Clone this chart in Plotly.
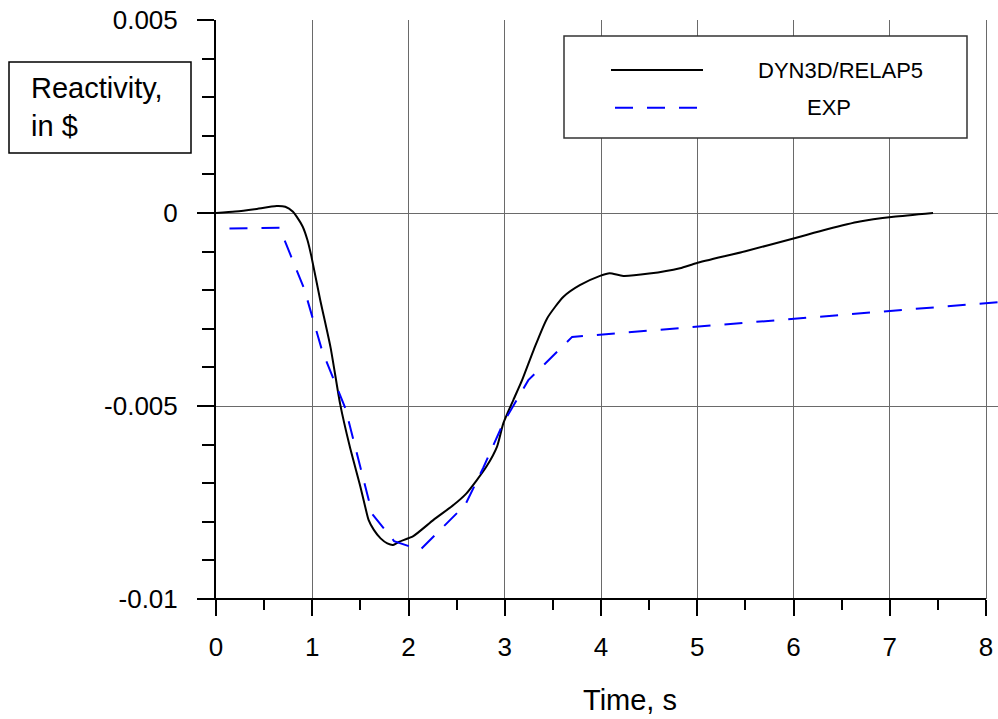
import plotly.graph_objects as go

# ---------------- data ----------------
calc_t = [0.0, 0.2, 0.4, 0.63, 0.72, 0.8, 0.84, 0.9, 0.95, 0.99, 1.08, 1.19, 1.29,
          1.39, 1.50, 1.55, 1.585, 1.64, 1.71, 1.78, 1.84, 1.9, 2.05, 2.26, 2.47, 2.6,
          2.71, 2.81, 2.92, 2.985, 3.09, 3.18, 3.30, 3.44, 3.61, 3.78, 3.99, 4.09, 4.23,
          4.5, 4.82, 4.99, 5.5, 6.0, 6.35, 6.69, 7.04, 7.45]
calc_v = [0.0, 0.00004, 0.0001, 0.00018, 0.00016, 0.00003, -0.0001, -0.00035, -0.0007,
          -0.00111, -0.00222, -0.00348, -0.00495, -0.00605, -0.00709, -0.00761, -0.00795,
          -0.00821, -0.00843, -0.00856, -0.0086, -0.00852, -0.00837, -0.00795, -0.00756,
          -0.00727, -0.00692, -0.00657, -0.00605, -0.00545, -0.00484, -0.00433, -0.00355,
          -0.00273, -0.00217, -0.00187, -0.00163, -0.00156, -0.00163, -0.00157, -0.00143,
          -0.0013, -0.00099, -0.00066, -0.00042, -0.00022, -0.0001, 0.0]

exp_t = [0.14, 0.66, 0.917, 1.104, 1.343, 1.624, 1.85, 2.12, 2.59, 2.777, 2.985, 3.245,
         3.70, 8.12]
exp_v = [-0.0004, -0.00038, -0.00197, -0.00358, -0.00505, -0.0078, -0.0085, -0.00873,
         -0.00756, -0.0066, -0.00544, -0.00433, -0.00321, -0.00231]

x_ticks = [0, 1, 2, 3, 4, 5, 6, 7, 8]
y_ticks = [-0.01, -0.005, 0, 0.005]
y_tick_text = ["-0.01", "-0.005", "0", "0.005"]

series_names = ["DYN3D/RELAP5", "EXP"]
x_title = "Time, s"
y_title = "Reactivity,<br>in $"

# ---------------- layout helpers ----------------
W, H = 998, 719
ML, MR, MT, MB = 216, 0, 20, 120
PW, PH = W - ML - MR, H - MT - MB
XMAX = 8.0 * PW / 770.0  # 0..8 spans 770 px


def px(xp):
    return (xp - ML) / PW


def py(yp):
    return (H - MB - yp) / PH


FONT = "Liberation Sans, Arial, sans-serif"

fig = go.Figure()
fig.add_trace(go.Scatter(x=calc_t, y=calc_v, mode="lines", name=series_names[0],
                         line=dict(color="black", width=2, shape="spline", smoothing=0.6),
                         showlegend=False))
fig.add_trace(go.Scatter(x=exp_t, y=exp_v, mode="lines", name=series_names[1],
                         line=dict(color="#0000ff", width=2, dash="18px,14px"),
                         showlegend=False))

fig.update_layout(
    width=W, height=H,
    margin=dict(l=ML, r=MR, t=MT, b=MB, pad=0),
    paper_bgcolor="white", plot_bgcolor="white",
    font=dict(family=FONT, color="black"),
    showlegend=False,
)

fig.update_xaxes(
    range=[0, XMAX], tickmode="array", tickvals=x_ticks,
    ticks="outside", ticklen=16, tickwidth=2, tickcolor="black",
    tickfont=dict(size=26, family=FONT, color="black"), ticklabelstandoff=9,
    showgrid=True, gridcolor="#6a6a6a", gridwidth=1,
    zeroline=False, showline=False,
    minor=dict(dtick=0.5, tick0=0, ticks="outside", ticklen=10, tickwidth=2,
               tickcolor="black", showgrid=False),
)
fig.update_yaxes(
    range=[-0.01, 0.005], tickmode="array", tickvals=y_ticks, ticktext=y_tick_text,
    ticks="outside", ticklen=17, tickwidth=2, tickcolor="black",
    tickfont=dict(size=26, family=FONT, color="black"), ticklabelstandoff=14,
    showgrid=True, gridcolor="#6a6a6a", gridwidth=1,
    zeroline=False, showline=True, linecolor="black", linewidth=2,
    minor=dict(dtick=0.001, tick0=0, ticks="outside", ticklen=12, tickwidth=2,
               tickcolor="black", showgrid=False),
)

shapes = [
    dict(type="line", xref="paper", yref="paper", x0=px(198), x1=px(986), y0=0, y1=0,
         line=dict(color="black", width=2)),
    dict(type="rect", xref="paper", yref="paper", x0=px(9), x1=px(191), y0=py(153), y1=py(62),
         line=dict(color="black", width=1.5), fillcolor="white"),
    dict(type="rect", xref="paper", yref="paper", x0=px(564), x1=px(967), y0=py(138), y1=py(36),
         line=dict(color="#333333", width=1.5), fillcolor="white", layer="above"),
    dict(type="line", xref="paper", yref="paper", x0=px(611), x1=px(703), y0=py(70), y1=py(70),
         line=dict(color="black", width=2), layer="above"),
    dict(type="line", xref="paper", yref="paper", x0=px(615), x1=px(698), y0=py(107.7), y1=py(107.7),
         line=dict(color="#0000ff", width=2, dash="18px,14px"), layer="above"),
]
fig.update_layout(shapes=shapes)

annotations = [
    dict(text=x_title, xref="paper", yref="paper", x=px(630), y=py(700), xanchor="center",
         yanchor="middle", showarrow=False, font=dict(size=29, family=FONT, color="black")),
    dict(text=y_title, xref="paper", yref="paper", x=px(29), y=py(107), xanchor="left",
         yanchor="middle", align="left", showarrow=False,
         font=dict(size=29, family=FONT, color="black")),
    dict(text=series_names[0], xref="paper", yref="paper", x=px(840), y=py(70), xanchor="center",
         yanchor="middle", showarrow=False, font=dict(size=22, family=FONT, color="black")),
    dict(text=series_names[1], xref="paper", yref="paper", x=px(829), y=py(108), xanchor="center",
         yanchor="middle", showarrow=False, font=dict(size=22, family=FONT, color="black")),
]
fig.update_layout(annotations=annotations)

fig.write_html("out.html", config={"displayModeBar": False},
               post_script="document.body.style.margin='0';document.body.style.overflow='hidden';")
